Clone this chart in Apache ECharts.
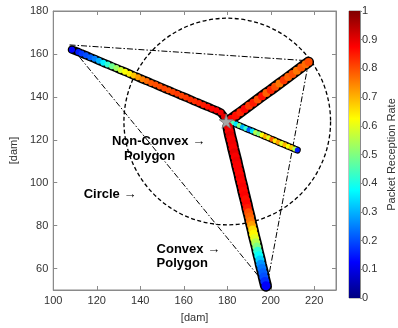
<!DOCTYPE html>
<html>
<head>
<meta charset="utf-8">
<script src="https://cdn.jsdelivr.net/npm/echarts@6/dist/echarts.min.js"></script>
<style>
  html, body { margin: 0; background: #fff; }
  #chart { width: 398px; height: 328px; }
</style>
</head>
<body>
<div id="chart"></div>
<script>
// axis ticks
const X_TICKS = [100, 120, 140, 160, 180, 200, 220]
const Y_TICKS = [60, 80, 100, 120, 140, 160, 180]

// jet colormap, evenly spaced stops
const JET = ['#000080', '#0000FF', '#0080FF', '#00FFFF', '#80FF80', '#FFFF00', '#FF8000', '#FF0000', '#800000']

// arms: [x, y, packet reception rate]
const NW_ARM = [
  [108.6, 162.0, 0.12], [111.5, 160.9, 0.15], [113, 160.2, 0.18], [115, 159.4, 0.2],
  [117, 158.5, 0.22], [119, 157.7, 0.25], [121, 156.8, 0.3], [123, 155.9, 0.36],
  [125, 155.1, 0.42], [127, 154.2, 0.48], [129, 153.4, 0.53], [131, 152.5, 0.58],
  [133, 151.7, 0.62], [135, 150.8, 0.64], [137, 149.9, 0.68], [139, 149.1, 0.72],
  [141, 148.2, 0.75], [143, 147.4, 0.77], [145, 146.5, 0.79], [147, 145.7, 0.8],
  [149, 144.8, 0.8], [151, 143.9, 0.81], [153, 143.1, 0.8], [155, 142.2, 0.81],
  [157, 141.4, 0.82], [159, 140.5, 0.81], [161, 139.7, 0.82], [163, 138.8, 0.83],
  [165, 137.9, 0.83], [167, 137.1, 0.84], [169, 136.2, 0.85], [171, 135.4, 0.86],
  [173, 134.5, 0.87], [175, 133.7, 0.88], [177, 132.7, 0.89], [178.5, 130.8, 0.9]
]
const NE_ARM = [
  [181, 128.8, 0.9], [182, 129.8, 0.88], [184, 131.3, 0.86], [186, 132.8, 0.84],
  [188, 134.3, 0.87], [190, 135.8, 0.82], [192, 137.3, 0.85], [194, 138.8, 0.8],
  [196, 140.3, 0.86], [198, 141.8, 0.78], [200, 143.2, 0.84], [202, 144.7, 0.8],
  [204, 146.2, 0.76], [206, 147.7, 0.82], [208, 149.2, 0.78], [210, 150.7, 0.8],
  [212, 152.2, 0.76], [214, 153.7, 0.79], [216, 155.2, 0.77], [217.4, 156.2, 0.8]
]
const ESE_ARM = [
  [182.5, 127.9, 0.45], [184, 127.3, 0.35], [185.5, 126.6, 0.5], [187, 126.0, 0.3],
  [188.5, 125.3, 0.42], [190, 124.7, 0.22], [191.5, 124.1, 0.35], [193, 123.4, 0.55],
  [194.5, 122.8, 0.5], [196, 122.2, 0.62], [197.5, 121.5, 0.7], [199, 120.9, 0.6],
  [200.5, 120.2, 0.78], [202, 119.6, 0.65], [203.5, 118.9, 0.72], [205, 118.3, 0.6],
  [206.5, 117.7, 0.7], [208, 117.0, 0.62], [209.5, 116.4, 0.68], [211, 115.7, 0.55],
  [212.2, 115.2, 0.15]
]
const S_ARM = [
  [180.5, 126, 0.9], [180.9, 124, 0.88], [181.3, 122, 0.9], [181.8, 120, 0.88],
  [182.3, 118, 0.89], [182.7, 116, 0.88], [183.2, 114, 0.9], [183.7, 112, 0.88],
  [184.2, 110, 0.89], [184.6, 108, 0.88], [185.1, 106, 0.88], [185.6, 104, 0.87],
  [186.0, 102, 0.88], [186.5, 100, 0.87], [187.0, 98, 0.88], [187.4, 96, 0.87],
  [187.9, 94, 0.88], [188.4, 92, 0.86], [188.9, 90, 0.87], [189.3, 88, 0.85],
  [189.8, 86, 0.8], [190.3, 84, 0.78], [190.7, 82, 0.76], [191.2, 80, 0.72],
  [191.7, 78, 0.66], [192.1, 76, 0.63], [192.6, 74, 0.6], [193.1, 72, 0.55],
  [193.6, 70, 0.5], [194.0, 68, 0.42], [194.5, 66, 0.38], [195.0, 64, 0.33],
  [195.4, 62, 0.27], [195.9, 60, 0.24], [196.4, 58, 0.22], [196.8, 56, 0.2],
  [197.3, 54, 0.17], [197.8, 52, 0.12]
]

const HUB = [[179.5, 128.6]]
const HULL = [[107.5, 164.2], [217.5, 156.8], [198.2, 51.7], [107.5, 164.2]]
const CIRCLE = [[180, 128.5, 47.5]]
const NOTES = [
  { value: [127.0, 119.1], name: 'Non-Convex →' },
  { value: [132.5, 112.3], name: 'Polygon' },
  { value: [114.0, 94.5], name: 'Circle →' },
  { value: [147.5, 69.1], name: 'Convex →' },
  { value: [147.5, 62.3], name: 'Polygon' }
]

const FONT = "'Liberation Sans', Arial, Helvetica, sans-serif"
const AXIS = '#8a8a8a'
const TXT = '#333'

const chart = echarts.init(document.getElementById('chart'), null, { renderer: 'canvas' })

const ARMS = [
  { data: NW_ARM, outer: 8.5, inner: 6 },
  { data: NE_ARM, outer: 11, inner: 8 },
  { data: ESE_ARM, outer: 7, inner: 5 },
  { data: S_ARM, outer: 12, inner: 9 }
]

const series = []
series.push({
  type: 'line', xAxisIndex: 0, yAxisIndex: 0, data: HULL, symbol: 'none',
  lineStyle: { color: '#000', width: 1, type: [6, 2, 1.5, 2] }, silent: true, z: 2
})
series.push({
  type: 'custom', xAxisIndex: 0, yAxisIndex: 0, data: CIRCLE, silent: true, z: 2,
  encode: { x: 0, y: 1 },
  renderItem: (params, api) => {
    const c = api.coord([api.value(0), api.value(1)])
    const r = api.size([api.value(2), 0])[0]
    return {
      type: 'circle',
      shape: { cx: c[0], cy: c[1], r },
      style: { fill: 'none', stroke: '#000', lineWidth: 1.3, lineDash: [4, 2.5] }
    }
  }
})
ARMS.forEach((a) => {
  series.push({
    type: 'line', xAxisIndex: 0, yAxisIndex: 0, data: a.data.map((p) => [p[0], p[1]]),
    symbol: 'none', silent: true, z: 3,
    lineStyle: { color: '#000', width: a.outer, cap: 'round', join: 'round' }
  })
})
const colored = []
ARMS.forEach((a) => {
  colored.push(series.length)
  series.push({
    type: 'scatter', xAxisIndex: 0, yAxisIndex: 0, data: a.data, symbolSize: a.inner,
    silent: true, z: 4,
    itemStyle: { borderWidth: 0, opacity: 1 }
  })
})
series.push({
  type: 'scatter', xAxisIndex: 0, yAxisIndex: 0, data: HUB, z: 5, silent: true,
  symbol: 'path://M50,0 L61,35 L98,35 L68,57 L79,91 L50,70 L21,91 L32,57 L2,35 L39,35 Z',
  symbolSize: 14, itemStyle: { color: '#a8a8a8', borderColor: '#777', borderWidth: 0.8, opacity: 1 }
})
series.push({
  type: 'scatter', xAxisIndex: 0, yAxisIndex: 0, data: NOTES, symbolSize: 0, z: 6, silent: true,
  itemStyle: { opacity: 1 },
  label: {
    show: true, position: 'right', distance: 0, formatter: '{b}', opacity: 1,
    color: '#000', fontFamily: FONT, fontWeight: 'bold', fontSize: 13
  }
})
// colorbar
series.push({
  type: 'bar', xAxisIndex: 2, yAxisIndex: 2, data: [1], barWidth: '100%', silent: true,
  itemStyle: {
    color: new echarts.graphic.LinearGradient(0, 1, 0, 0,
      JET.map((c, i) => ({ offset: i / (JET.length - 1), color: c })))
  }
})

const labelStyle = { color: TXT, fontSize: 11, fontFamily: FONT }

chart.setOption({
  animation: false,
  grid: [
    { left: 50, right: 62, top: 11, bottom: 31, show: true, borderColor: AXIS, borderWidth: 1 },
    { left: 349, width: 17, top: 11, bottom: 30, show: true, borderColor: AXIS, borderWidth: 1 }
  ],
  xAxis: [
    {
      type: 'value', gridIndex: 0, min: 100, max: 230, position: 'bottom',
      axisLine: { show: true, lineStyle: { color: AXIS } },
      axisTick: { show: true, inside: true, length: 4, customValues: X_TICKS, lineStyle: { color: AXIS } },
      axisLabel: { ...labelStyle, margin: 5, customValues: X_TICKS },
      splitLine: { show: false },
      name: '[dam]', nameLocation: 'middle', nameGap: 22, nameTextStyle: labelStyle
    },
    {
      type: 'value', gridIndex: 0, min: 100, max: 230, position: 'top',
      axisLine: { show: true, lineStyle: { color: AXIS } },
      axisTick: { show: true, inside: true, length: 4, customValues: X_TICKS, lineStyle: { color: AXIS } },
      axisLabel: { show: false }, splitLine: { show: false }
    },
    {
      type: 'category', gridIndex: 1, data: ['cb'], show: false
    }
  ],
  yAxis: [
    {
      type: 'value', gridIndex: 0, min: 50, max: 180, position: 'left',
      axisLine: { show: true, lineStyle: { color: AXIS } },
      axisTick: { show: true, inside: true, length: 4, customValues: Y_TICKS, lineStyle: { color: AXIS } },
      axisLabel: { ...labelStyle, margin: 5, customValues: Y_TICKS },
      splitLine: { show: false },
      name: '[dam]', nameLocation: 'middle', nameGap: 30, nameRotate: 90, nameTextStyle: labelStyle
    },
    {
      type: 'value', gridIndex: 0, min: 50, max: 180, position: 'right',
      axisLine: { show: true, lineStyle: { color: AXIS } },
      axisTick: { show: true, inside: true, length: 4, customValues: Y_TICKS, lineStyle: { color: AXIS } },
      axisLabel: { show: false }, splitLine: { show: false }
    },
    {
      type: 'value', gridIndex: 1, min: 0, max: 1, interval: 0.1, position: 'right',
      axisLine: { show: true, lineStyle: { color: AXIS } },
      axisTick: { show: true, inside: false, length: 2, lineStyle: { color: AXIS } },
      axisLabel: { ...labelStyle, margin: 2 },
      splitLine: { show: false },
      name: 'Packet Reception Rate', nameLocation: 'middle', nameGap: 26, nameRotate: 90,
      nameTextStyle: labelStyle
    }
  ],
  visualMap: {
    show: false, type: 'continuous', min: 0, max: 1, dimension: 2,
    seriesIndex: colored, inRange: { color: JET }
  },
  series
})
</script>
</body>
</html>
